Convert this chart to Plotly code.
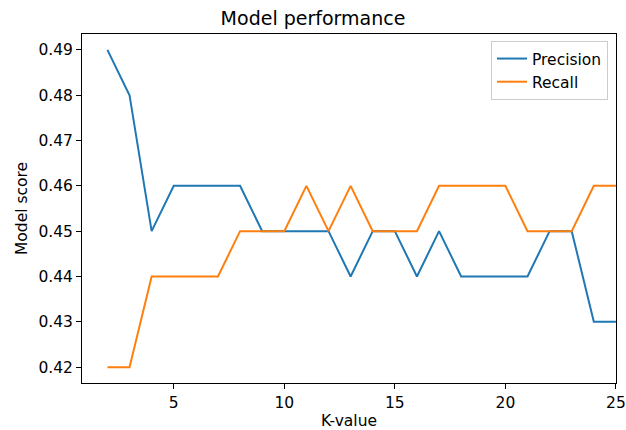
import plotly.graph_objects as go

k_values = list(range(2, 26))
precision = [0.49, 0.48, 0.45, 0.46, 0.46, 0.46, 0.46, 0.45, 0.45, 0.45, 0.45, 0.44,
             0.45, 0.45, 0.44, 0.45, 0.44, 0.44, 0.44, 0.44, 0.45, 0.45, 0.43, 0.43]
recall = [0.42, 0.42, 0.44, 0.44, 0.44, 0.44, 0.45, 0.45, 0.45, 0.46, 0.45, 0.46,
          0.45, 0.45, 0.45, 0.46, 0.46, 0.46, 0.46, 0.45, 0.45, 0.45, 0.46, 0.46]
x_ticks = [5, 10, 15, 20, 25]
y_ticks = [0.42, 0.43, 0.44, 0.45, 0.46, 0.47, 0.48, 0.49]

font = "DejaVu Sans"
fs = 15.5
fig = go.Figure()
fig.add_trace(go.Scatter(x=k_values, y=precision, mode="lines", name="Precision",
                         line=dict(color="#1f77b4", width=2)))
fig.add_trace(go.Scatter(x=k_values, y=recall, mode="lines", name="Recall",
                         line=dict(color="#ff7f0e", width=2)))

axis_common = dict(showline=True, linecolor="black", linewidth=1, mirror=True,
                   ticks="outside", ticklen=5, tickcolor="black", tickwidth=1,
                   showgrid=False, zeroline=False, ticklabeloverflow="allow",
                   automargin=False,
                   tickfont=dict(family=font, size=fs, color="black"))

fig.update_layout(
    width=626, height=430,
    margin=dict(l=82, r=10, t=34, b=47),
    paper_bgcolor="white", plot_bgcolor="white",
    title=dict(text="Model performance", x=0.5, xanchor="center", y=0.958, yanchor="middle",
               font=dict(family=font, size=19, color="black")),
    xaxis=dict(range=[0.85, 25.003], tickvals=x_ticks,
               title=dict(text="K-value", font=dict(family=font, size=fs, color="black"), standoff=4),
               **axis_common),
    yaxis=dict(range=[0.4165, 0.4935], tickvals=y_ticks, tickformat=".2f",
               title=dict(text="Model score", font=dict(family=font, size=fs, color="black"), standoff=6),
               **axis_common),
    legend=dict(x=0.985, y=0.98, xanchor="right", yanchor="top",
                bgcolor="rgba(255,255,255,0.8)", bordercolor="#cccccc", borderwidth=1,
                tracegroupgap=0, itemwidth=30,
                font=dict(family=font, size=fs, color="black")),
    showlegend=True,
)

fig.write_html("out.html")
